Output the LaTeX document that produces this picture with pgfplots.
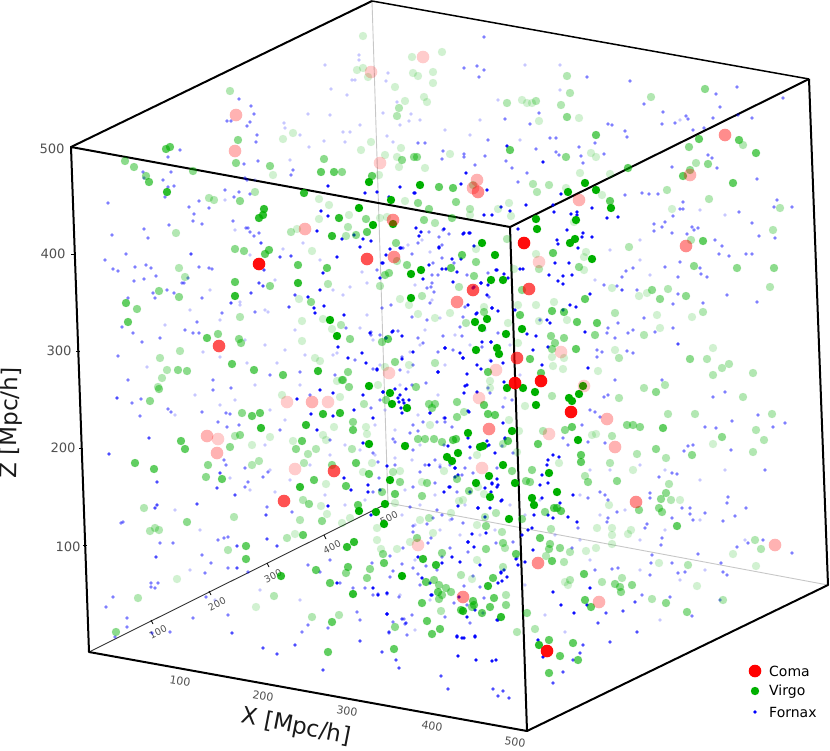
\documentclass[border=0pt]{standalone}
\usepackage{fontspec}
\setmainfont{DejaVu Sans}
\usepackage{pgfplots}
\pgfplotsset{compat=1.18}
\definecolor{vgreen}{RGB}{0,176,0}
\definecolor{tick}{RGB}{80,80,80}
\pgfplotsset{
  coma/.style={only marks,mark=*,mark size=6.3pt,mark options={fill=red,draw opacity=0,fill opacity=#1}},
  virgo/.style={only marks,mark=*,mark size=4.2pt,mark options={fill=vgreen,draw opacity=0,fill opacity=#1}},
  fornax/.style={only marks,mark=*,mark size=1.9pt,mark options={fill=blue,draw opacity=0,fill opacity=#1}},
}
\begin{document}
\begin{tikzpicture}
\begin{axis}[
  scale only axis,width=830pt,height=750pt,
  xmin=0,xmax=830,ymin=0,ymax=750,y dir=reverse,
  hide axis,clip=false]
\path[use as bounding box] (axis cs:0,0) rectangle (axis cs:830,750);

% back edges
\addplot[no marks,color=black!22,line width=0.9pt] coordinates {(372,1)(388,503)(828,585)};
\addplot[no marks,color=black!80,line width=0.9pt] coordinates {(89,652)(388,503)};

% Fornax, faint
\addplot[fornax=0.22] coordinates {(359,55)(325,65)(359,60)(355,80)(352,80)(331,89)(347,95)(388,73)(386,81)(308,114)(284,123)(285,128)(343,132)(350,132)(309,147)(324,141)(345,142)(383,113)(411,114)(409,121)(397,102)(393,142)(387,136)(283,249)(303,243)(320,260)(333,290)(343,295)(350,287)(362,272)(367,283)(367,315)(360,328)(373,340)(333,355)(337,353)(277,363)(265,310)(268,312)(240,302)(240,305)(220,357)(203,352)(247,363)(147,367)(422,240)(430,252)(408,245)(415,285)(432,300)(440,318)(425,330)(455,335)(470,345)(410,352)(420,345)(445,365)(485,330)(510,345)(520,375)(490,360)(505,398)(438,395)(418,415)(408,372)(400,385)(385,410)(375,425)(395,430)(420,445)(440,465)(412,460)(395,458)(375,455)(360,450)(345,445)(330,455)(310,465)(290,480)(275,492)(325,495)(345,505)(365,500)(405,490)(420,505)(435,495)(450,520)(465,505)(480,535)(415,525)(402,515)(440,530)(460,535)(495,530)(510,505)(525,515)(540,500)(555,535)(580,495)(600,515)(625,510)(640,540)(665,530)(700,520)(745,540)(640,570)(680,580)(705,570)(590,560)(580,540)(525,585)(545,615)(415,560)(400,595)(430,600)(415,630)(565,632)(660,620)(590,470)(610,470)(640,465)(665,470)(700,480)(725,470)(595,280)(610,250)(640,240)(640,260)(650,275)(700,210)(725,215)(680,120)(560,90)(525,65)(560,65)(498,100)(480,120)(445,130)(470,135)(520,140)(420,120)(400,125)(360,125)(330,115)(300,135)(290,160)(255,180)(225,200)(235,230)(250,255)(275,280)(210,290)(220,320)(190,310)(165,325)(245,340)(265,345)(285,350)(305,355)(380,365)(295,330)(300,385)(285,420)(270,410)(255,385)(235,400)(220,405)(195,395)(175,415)(265,445)(270,470)(250,490)(230,478)(175,510)(200,530)(190,570)(215,600)(260,590)(300,600)};

% Fornax, medium
\addplot[fornax=0.5] coordinates {(108,203)(144,229)(112,235)(148,238)(126,254)(105,260)(113,269)(118,271)(135,267)(146,265)(151,268)(134,281)(144,279)(156,276)(153,293)(155,298)(128,298)(167,290)(174,293)(209,268)(212,269)(199,267)(182,283)(184,283)(188,278)(202,298)(233,221)(246,228)(248,228)(250,232)(254,236)(259,233)(168,157)(180,150)(171,172)(143,172)(144,178)(163,180)(168,187)(174,186)(165,197)(199,201)(189,207)(194,214)(193,221)(202,224)(169,225)(209,208)(225,190)(234,197)(239,192)(250,194)(247,180)(245,178)(258,161)(244,164)(257,135)(256,142)(239,99)(251,106)(254,114)(227,121)(231,121)(247,126)(250,122)(293,170)(291,175)
(484,37)(464,68)(477,66)(484,70)(479,77)(587,77)(630,81)(737,87)(716,94)(644,104)(720,107)(783,98)(663,112)(686,116)(688,119)(713,118)(738,115)(752,118)(675,123)(662,124)(608,124)(612,125)(625,131)(627,137)(693,130)(704,128)(530,124)(539,113)(505,119)(550,138)(556,138)(488,140)(536,149)(579,147)(595,143)(581,156)(583,163)(604,154)(559,155)(556,152)(506,161)(485,156)(464,154)(464,157)(442,159)(425,143)(418,143)(443,151)(475,165)(512,168)(527,173)(518,182)(672,167)(717,168)(708,155)(712,158)(757,179)(625,195)(642,193)(649,194)(658,194)(683,202)(680,209)(683,209)(673,216)(739,212)(777,200)(792,207)(774,207)(752,223)(698,228)(692,227)(694,230)(665,222)(662,227)(654,224)(654,231)(672,233)(687,234)(715,240)(722,246)(759,236)(775,238)(719,254)(729,256)(746,254)(752,254)(680,262)(665,267)(633,268)(626,271)(622,277)(678,277)(700,268)(707,277)(701,274)(637,290)(604,285)(617,286)(678,294)(727,295)(757,302)(673,304)(703,303)(644,318)(618,323)(608,328)(633,330)(628,333)(615,338)(655,332)(673,328)(607,333)(597,350)(602,352)(627,351)(633,353)(597,357)(540,320)
(773,427)(785,423)(758,415)(732,421)(716,428)(693,445)(731,450)(684,451)(688,446)(765,470)(672,473)(677,474)(659,477)(728,497)(727,503)(746,508)(690,508)(682,508)(690,514)(705,513)(735,516)(723,521)(693,520)(672,518)(650,493)(650,498)(647,524)(645,528)(617,512)(608,518)(607,522)(662,538)(661,545)(737,547)(748,543)(763,540)(792,553)(698,554)(652,555)(672,563)(651,563)(721,563)(723,572)(727,575)(678,573)(685,572)(612,569)(618,568)(650,575)(642,595)(670,597)(692,616)(720,600)(608,395)(604,397)(615,380)(662,380)(713,397)(725,392)(705,427)(590,410)(595,412)(600,417)(605,443)(588,442)(582,425)(563,438)(568,445)(600,492)(605,495)(608,500)(588,498)(578,528)(572,548)(595,570)
(132,403)(140,416)(141,399)(168,409)(171,412)(202,412)(226,413)(230,414)(218,422)(227,427)(239,425)(213,390)(231,388)(213,380)(128,380)(121,523)(123,522)(160,543)(173,543)(202,555)(211,563)(218,540)(228,537)(224,538)(113,597)(106,607)(127,618)(127,627)(115,637)(151,583)(151,587)(158,583)(155,588)(170,632)(152,633)(193,618)(206,597)(228,615)(205,573)(228,568)(248,572)(245,487)(248,482)(263,477)(268,472)(245,468)(226,465)(224,460)(292,512)(267,507)(330,560)(320,572)(302,632)(308,625)(328,628)(357,612)(360,620)(340,583)(353,588)(365,588)(308,565)
(122,327)(133,333)(160,338)(142,342)(118,356)(185,330)(193,333)(199,333)(197,322)(222,313)(255,312)(346,328)(355,360)(335,375)(300,372)(270,375)(310,395)(280,430)(330,440)
(429,232)(443,230)(449,234)(439,237)(442,245)(412,254)(418,243)(403,248)(454,263)(442,258)(433,263)(432,275)(377,270)(438,275)(432,283)(431,287)(427,288)(434,292)(467,275)(488,273)(489,297)(465,307)(463,317)(391,305)(382,308)(460,327)(427,320)(412,317)(418,338)(398,331)(443,336)(462,336)(423,343)(438,352)(482,347)(371,332)(371,335)(380,335)(402,357)(453,350)(498,333)(430,303)
(373,369)(400,370)(413,365)(426,383)(412,385)(371,408)(380,400)(430,413)(444,418)(437,422)(445,422)(423,422)(413,425)(452,427)(410,433)(418,431)(395,442)(393,439)(407,444)(413,450)(378,462)(373,453)(395,465)(420,472)(425,465)(435,460)(440,467)(450,465)(465,468)(473,473)(462,475)(502,446)(513,453)(470,458)(497,468)(512,400)(503,407)(490,393)(488,388)(444,445)(373,492)(379,478)(413,487)(457,492)(435,483)
(437,510)(442,515)(413,526)(427,524)(433,518)(413,532)(390,556)(403,548)(428,543)(431,538)(468,552)(450,548)(442,557)(372,563)(393,571)(413,568)(426,566)(418,574)(402,564)(390,577)(420,585)(373,595)(378,594)(387,594)(399,597)(412,615)(393,622)(404,619)(405,624)(389,633)(407,635)(464,586)(473,576)(480,587)(484,598)(496,543)(513,542)(517,558)(463,523)(452,519)(410,507)(437,570)(454,603)(467,605)(470,623)(445,617)(483,613)};

% Fornax, darker, outskirts
\addplot[fornax=0.7] coordinates {(191,254)(280,257)(291,256)(261,243)(264,270)(263,286)(259,283)(251,293)(231,303)(295,295)(289,307)(266,515)(295,645)(277,654)(232,633)(263,648)(157,482)(217,488)(220,473)(197,504)(235,495)(267,539)(237,546)(237,568)(277,546)(156,557)(157,505)(117,398)(149,438)(109,454)(155,508)(678,344)(622,290)(598,623)(610,642)(637,632)(623,611)(635,602)(606,613)(323,670)(360,641)(396,660)(399,668)(382,652)(389,632)(406,623)(402,619)(448,689)(441,676)(493,689)(503,691)(498,696)(509,698)(553,683)(563,672)(580,653)(573,660)(583,645)};

% Fornax, strong
\addplot[fornax=0.95] coordinates {(328,186)(400,187)(365,193)(377,192)(389,197)(414,193)(321,211)(328,216)(317,231)(342,239)(354,235)(363,239)(360,247)(401,248)(390,249)(383,263)(337,257)(323,273)(320,290)(324,306)(314,308)(315,313)(344,315)(370,333)(386,338)(338,347)(348,358)(362,353)(366,363)(402,359)(377,370)(308,297)(393,331)
(510,211)(526,205)(501,207)(484,215)(492,215)(553,205)(561,194)(577,212)(577,215)(592,208)(607,218)(618,217)(554,212)(571,214)(567,230)(583,233)(582,237)(592,237)(578,248)(557,240)(558,244)(518,229)(464,233)(469,233)(444,229)(439,247)(461,259)(520,269)(523,269)(555,263)(569,263)(549,275)(558,281)(563,284)(563,276)(572,275)(590,294)(543,162)(507,146)(466,173)(461,184)(487,190)(415,193)(442,269)(457,272)(474,287)(481,283)(497,270)(488,285)(508,278)(487,295)(477,313)(492,308)(498,311)(515,310)(547,320)(550,323)(570,305)(576,307)(563,310)(548,347)(527,334)(536,336)(491,342)(463,358)(482,342)(445,348)(460,353)(438,372)(477,365)(491,361)(533,350)(542,365)(588,368)(503,363)(585,332)
(297,399)(311,414)(333,416)(320,390)(333,393)(363,395)(395,389)(406,389)(400,395)(403,400)(383,392)(354,410)(373,418)(363,443)(317,430)(344,478)(351,490)(368,485)(368,492)(380,490)(328,506)(337,583)(387,614)(378,595)(373,588)(387,593)(371,515)
(467,385)(464,393)(468,411)(430,413)(445,418)(503,423)(505,438)(495,453)(487,446)(448,446)(468,438)(455,468)(458,475)(492,483)(497,487)(491,492)(502,500)(458,506)(478,508)(444,492)(450,487)(548,483)(540,485)(547,465)(542,475)(559,457)(548,460)(553,455)(573,495)(542,498)(560,503)(568,517)(577,522)(553,518)(548,515)(534,515)(532,528)(528,530)(522,535)(533,550)(525,562)(518,565)(507,577)(501,572)(498,583)(468,542)(474,547)(497,620)(492,661)(496,660)(476,660)(458,656)(457,637)(464,638)(475,637)(538,640)(543,657)(553,592)(561,605)(574,613)(587,605)(590,588)(452,557)(460,562)(422,578)(430,583)(432,595)(418,557)
(416,228)(421,232)(419,236)(463,234)(470,233)(439,248)(474,246)(400,248)(382,263)(452,259)(429,265)(446,269)(423,279)(453,282)(481,283)(496,270)(504,274)(371,241)(380,278)(473,288)(468,305)(492,308)(476,314)(386,338)(392,332)(445,348)(491,342)(413,352)(463,358)(402,336)(386,255)
(438,372)(467,374)(481,369)(465,386)(504,382)(477,392)(383,392)(398,398)(399,402)(404,403)(401,408)(407,408)(409,400)(402,413)(469,412)(455,468)(470,447)(487,441)(489,445)(505,439)(481,448)(429,465)(387,466)(390,480)(492,484)(497,479)(498,485)(455,477)(485,488)(470,492)(449,487)(377,369)
(478,508)(490,508)(501,501)(472,534)(486,533)(468,542)(480,565)(501,573)(502,581)(504,570)(442,563)(431,595)(485,517)(459,597)(498,620)(387,614)(457,636)(462,638)(475,636)(516,559)(467,617)(475,610)};

% Virgo
\addplot[virgo=0.18] coordinates {(363,36)(357,70)(363,68)(368,77)(412,57)(413,73)(395,87)(405,101)(399,167)(283,139)(293,133)(371,142)(361,150)(385,155)(401,148)(397,157)(273,175)(379,175)(319,199)(329,205)(405,201)(349,215)(380,218)(387,217)(319,219)(297,229)(312,251)(299,299)(400,299)(409,305)(302,321)(323,319)(332,329)(302,341)(315,358)(320,361)(409,365)(385,367)(442,52)(433,72)(418,76)(433,83)(424,97)(427,102)(522,100)(527,103)(532,103)(579,118)(539,121)(450,154)(591,153)(596,157)(425,168)(580,173)(610,174)(566,188)(602,195)(672,209)(498,209)(509,203)(511,216)(470,215)(574,222)(536,254)(586,252)(584,257)(476,249)(584,270)(514,269)(612,288)(647,293)(639,296)(484,307)(518,305)(536,305)(554,302)(657,315)(692,317)(450,313)(418,314)(435,318)(508,323)(539,321)(567,320)(660,328)(518,343)(615,350)(713,348)(552,357)(564,358)(553,366)(563,369)(598,371)(337,381)(378,385)(490,381)(490,388)(282,395)(340,397)(334,427)(366,427)(367,434)(270,437)(293,441)(323,435)(326,440)(252,445)(372,463)(400,471)(363,472)(326,484)(321,506)(395,503)(327,514)(342,523)(350,518)(377,528)(295,534)(377,540)(381,549)(397,549)(410,542)(177,579)(256,607)(525,406)(509,420)(519,431)(596,434)(592,435)(430,425)(713,444)(477,455)(517,452)(559,463)(444,471)(633,470)(422,482)(478,487)(484,494)(459,501)(463,500)(680,500)(609,505)(451,513)(420,520)(597,528)(612,528)(612,535)(631,530)(628,534)(433,533)(586,551)(596,548)(612,544)(733,554)(659,563)(756,566)(477,525)(477,560)(472,579)(565,582)(568,585)(697,586)};
\addplot[virgo=0.3] coordinates {(230,91)(291,232)(348,227)(346,236)(397,261)(179,268)(185,277)(176,233)(240,317)(341,325)(180,351)(160,358)(167,370)(255,192)(209,198)(214,200)(380,286)(328,284)(397,116)(399,108)(567,76)(570,93)(507,103)(536,101)(561,105)(651,97)(743,145)(696,163)(473,185)(537,192)(667,190)(709,199)(533,184)(549,185)(470,209)(435,223)(773,230)(507,239)(691,240)(629,247)(539,269)(459,287)(770,287)(668,289)(422,296)(703,312)(615,313)(644,335)(466,323)(619,358)(435,363)(707,359)(729,364)(722,368)(753,373)(713,375)(780,208)(158,387)(162,378)(364,404)(235,436)(352,449)(259,461)(252,465)(304,463)(308,454)(316,449)(393,472)(303,500)(144,508)(300,520)(287,538)(228,550)(159,530)(155,528)(150,531)(234,517)(274,596)(339,615)(312,617)(138,598)(464,412)(552,396)(619,398)(644,388)(665,385)(743,397)(668,414)(695,414)(772,414)(543,431)(764,440)(756,430)(612,436)(753,452)(503,444)(610,463)(637,454)(666,458)(585,476)(669,484)(671,500)(429,518)(485,517)(496,513)(502,532)(551,529)(570,552)(546,556)(564,562)(503,567)(755,540)(761,549)(461,575)(570,580)(602,582)(622,578)(688,565)(505,548)(506,595)(441,611)(652,599)(723,600)(517,632)(535,629)};
\addplot[virgo=0.45] coordinates {(125,161)(134,167)(146,176)(240,201)(270,166)(324,159)(342,172)(193,171)(238,140)(236,163)(402,160)(414,157)(366,219)(356,235)(396,243)(235,249)(244,251)(407,265)(385,275)(389,273)(270,286)(159,291)(179,297)(311,302)(350,339)(218,334)(239,339)(241,343)(382,342)(395,362)(178,370)(187,371)(348,372)(137,309)(705,89)(567,117)(689,147)(566,157)(417,157)(708,164)(690,170)(456,202)(418,203)(429,209)(424,220)(452,218)(476,262)(474,276)(694,266)(737,268)(774,268)(579,267)(522,290)(652,290)(660,299)(686,296)(484,312)(551,336)(555,343)(564,338)(552,349)(690,359)(595,335)(242,413)(343,380)(342,380)(349,387)(353,422)(386,400)(150,401)(159,389)(240,435)(230,447)(296,449)(208,465)(332,465)(206,477)(400,482)(382,492)(309,504)(322,521)(187,522)(383,554)(346,573)(370,569)(367,578)(116,632)(395,627)(416,387)(457,402)(457,417)(429,404)(435,404)(432,408)(565,430)(627,425)(633,425)(640,427)(656,392)(722,437)(656,449)(692,455)(418,439)(434,439)(425,439)(442,442)(532,470)(512,471)(617,481)(457,479)(427,483)(526,481)(530,482)(588,482)(469,491)(422,496)(666,493)(661,499)(639,510)(659,508)(662,512)(545,512)(522,519)(486,526)(417,538)(550,544)(503,543)(560,548)(549,549)(486,549)(442,553)(434,580)(439,585)(620,587)(621,592)(632,585)(615,584)(446,588)(451,592)(442,595)(439,599)(472,607)(506,605)(666,603)(687,612)(527,613)};
\addplot[virgo=0.62] coordinates {(372,176)(149,182)(321,172)(334,172)(367,232)(269,250)(265,254)(327,268)(235,282)(126,303)(128,322)(388,339)(207,338)(232,364)(254,370)(283,375)(166,149)(170,147)(298,265)(596,135)(510,150)(699,139)(739,140)(756,153)(628,168)(683,176)(733,183)(439,187)(453,188)(610,201)(703,241)(462,255)(553,253)(451,268)(585,299)(552,311)(564,312)(577,322)(597,323)(576,349)(520,315)(530,359)(541,373)(488,372)(252,416)(260,413)(353,430)(302,441)(181,441)(185,449)(135,463)(154,469)(356,463)(369,474)(222,479)(314,480)(346,486)(395,494)(358,505)(246,546)(246,559)(316,570)(348,567)(384,563)(330,583)(332,622)(394,649)(328,652)(484,405)(488,414)(495,415)(572,427)(663,428)(538,444)(508,441)(453,440)(456,439)(677,526)(581,455)(581,462)(540,538)(516,554)(552,561)(493,578)(584,574)(426,582)(438,592)(473,601)(474,605)(422,603)(490,607)(482,613)(461,610)(494,598)(585,600)(591,607)(427,621)(440,629)(432,634)(549,640)(573,643)(560,656)(578,660)(549,673)(554,508)(557,508)(561,511)(303,535)};
\addplot[virgo=0.82] coordinates {(304,193)(264,209)(263,215)(259,218)(339,218)(332,236)(298,283)(235,296)(318,371)(167,192)(323,414)(340,413)(306,425)(261,428)(300,487)(354,542)(347,547)(281,576)(353,594)(539,645)(423,559)(436,565)(463,611)(488,586)(501,617)};
\addplot[virgo=1] coordinates {(369,182)(391,200)(359,208)(393,224)(373,225)(411,274)(411,298)(330,320)(337,336)(420,185)(585,183)(568,192)(596,190)(611,208)(536,219)(576,220)(537,229)(482,243)(575,239)(570,243)(495,255)(592,259)(421,270)(503,280)(491,280)(487,319)(475,322)(482,328)(522,329)(506,334)(476,350)(497,348)(499,354)(369,386)(390,393)(392,404)(407,408)(369,444)(405,446)(390,480)(359,511)(376,512)(385,504)(384,524)(402,576)(507,388)(523,388)(535,392)(536,405)(569,398)(572,401)(579,394)(583,386)(512,431)(468,433)(578,440)(480,447)(483,446)(458,453)(447,457)(452,461)(503,465)(549,473)(489,476)(476,483)(515,483)(557,492)(490,497)(532,498)(534,505)(509,519)};

% Coma
\addplot[coma=0.2] coordinates {(371,72)(380,163)(389,373)(423,57)(539,262)(561,352)(496,370)(218,439)(287,402)(328,402)(295,469)(584,386)(479,398)(549,434)(482,468)(418,545)};
\addplot[coma=0.3] coordinates {(236,115)(235,151)(305,229)(477,180)(473,188)(690,175)(579,200)(217,453)(207,436)(312,402)(607,419)(615,447)(775,545)(599,602)};
\addplot[coma=0.45] coordinates {(394,257)(393,220)(725,135)(686,246)(457,302)(489,429)(538,563)(463,597)(636,502)(478,192)};
\addplot[coma=0.68] coordinates {(367,259)(219,346)(473,290)(517,358)(334,471)(284,501)(529,289)};
\addplot[coma=0.95] coordinates {(524,243)(515,383)(541,381)(571,412)(547,651)(259,264)};

% front edges of the box
\addplot[no marks,color=black,line width=2pt,line join=round] coordinates {(71,147)(372,1)};
\addplot[no marks,color=black,line width=1.5pt] coordinates {(372,1)(809,79)};
\addplot[no marks,color=black,line width=2pt,line join=round] coordinates {(809,79)(510,227)(71,147)(89,652)(527,731)(828,585)(809,79)};
\addplot[no marks,color=black,line width=2pt] coordinates {(510,227)(527,731)};

% small ticks
\addplot[no marks,color=black,line width=0.7pt] coordinates {(71,254)(76,254)};
\addplot[no marks,color=black,line width=0.7pt] coordinates {(76,351)(80,351)};
\addplot[no marks,color=black,line width=0.7pt] coordinates {(79,448)(83,448)};
\addplot[no marks,color=black,line width=0.7pt] coordinates {(83,545)(87,545)};
\addplot[no marks,color=black,line width=0.7pt] coordinates {(151,620)(153,624)};
\addplot[no marks,color=black,line width=0.7pt] coordinates {(209,591)(211,595)};
\addplot[no marks,color=black,line width=0.7pt] coordinates {(267,563)(269,567)};
\addplot[no marks,color=black,line width=0.7pt] coordinates {(324,535)(326,539)};

% tick labels
\foreach \t/\x/\y in {500/52/149,400/53/254,300/59/351,200/63/448,100/68/547}
  {\edef\tmp{\noexpand\node[text=tick,font=\noexpand\fontsize{13}{13}\noexpand\selectfont,rotate=-1] at (axis cs:\x,\y) {\t};}\tmp}
\foreach \t/\x/\y in {100/180/681,200/263/696,300/347/711,400/432/726,500/515/742}
  {\edef\tmp{\noexpand\node[text=tick,font=\noexpand\fontsize{11}{11}\noexpand\selectfont,rotate=-9,inner sep=0pt] at (axis cs:\x,\y) {\t};}\tmp}
\foreach \t/\x/\y in {100/158/632,200/217/604,300/273/576,400/332/547,500/389/518}
  {\edef\tmp{\noexpand\node[text=tick,font=\noexpand\fontsize{9.5}{9.5}\noexpand\selectfont,rotate=27,inner sep=0pt] at (axis cs:\x,\y) {\t};}\tmp}

% axis titles
\node[rotate=-11,font=\fontsize{23}{23}\selectfont,text=black!90,inner sep=0pt] at (axis cs:296,727) {X [Mpc/h]};
\node[rotate=89,font=\fontsize{23}{23}\selectfont,text=black!90,inner sep=0pt] at (axis cs:11,423) {Z [Mpc/h]};

% legend
\addplot[coma=1] coordinates {(755,671)};
\addplot[virgo=1] coordinates {(755,691)};
\addplot[fornax=1] coordinates {(755,712)};
\node[anchor=west,inner sep=0pt,font=\fontsize{14}{14}\selectfont] at (axis cs:769,671) {Coma};
\node[anchor=west,inner sep=0pt,font=\fontsize{14}{14}\selectfont] at (axis cs:769,692) {Virgo};
\node[anchor=west,inner sep=0pt,font=\fontsize{14}{14}\selectfont] at (axis cs:769,712) {Fornax};
\end{axis}
\end{tikzpicture}
\end{document}
